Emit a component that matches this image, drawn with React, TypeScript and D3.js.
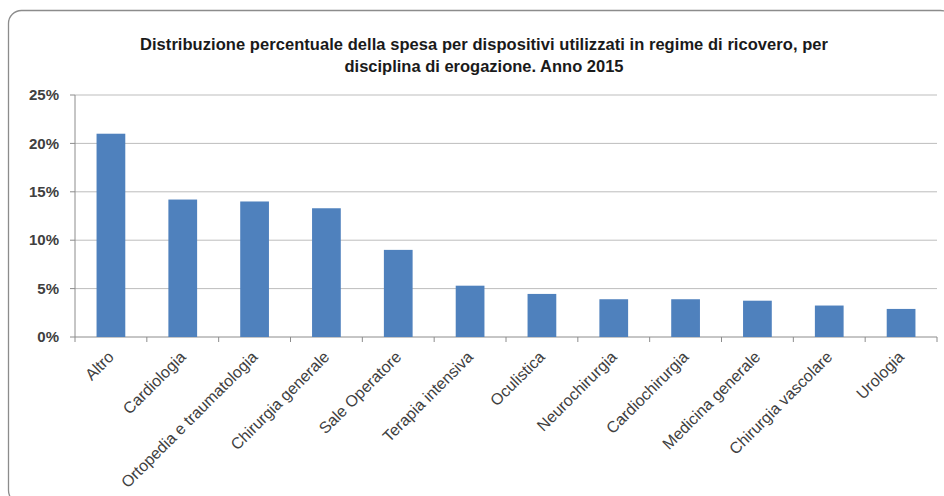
import React from "react";
import * as d3 from "d3";

const categories = [
  "Altro",
  "Cardiologia",
  "Ortopedia e traumatologia",
  "Chirurgia generale",
  "Sale Operatore",
  "Terapia intensiva",
  "Oculistica",
  "Neurochirurgia",
  "Cardiochirurgia",
  "Medicina generale",
  "Chirurgia vascolare",
  "Urologia",
];
const values = [21.0, 14.2, 14.0, 13.3, 9.0, 5.3, 4.45, 3.9, 3.9, 3.75, 3.25, 2.9];
const yTicks = [0, 5, 10, 15, 20, 25];
const titleLines = [
  "Distribuzione percentuale della spesa per dispositivi utilizzati in regime di ricovero, per",
  "disciplina di erogazione. Anno 2015",
];

const W = 944;
const H = 496;
const plotLeft = 75;
const plotRight = 937;
const plotTop = 95;
const plotBottom = 337;

export default function App() {
  const x = d3.scaleBand<string>().domain(categories).range([plotLeft, plotRight]).paddingInner(0.6).paddingOuter(0.3);
  const xb = d3.scaleBand<string>().domain(categories).range([plotLeft, plotRight]);
  const y = d3.scaleLinear().domain([0, 25]).range([plotBottom, plotTop]);
  const font = "'Liberation Sans', Arial, sans-serif";
  const boundaries = d3.range(categories.length + 1).map((i) => plotLeft + i * xb.step());

  return (
    <svg width={W} height={H} style={{ position: "absolute", left: 0, top: 0 }} fontFamily={font}>
      <rect x={0} y={0} width={W} height={H} fill="#ffffff" />
      <rect x={8.5} y={10.5} width={945} height={493} rx={13} ry={13} fill="#ffffff" stroke="#8c8c8c" strokeWidth={1.3} />
      {titleLines.map((t, i) => (
        <text key={i} x={484} y={50 + i * 22} textAnchor="middle" fontWeight="bold" fontSize={16.5} fill="#1a1a1a" textLength={i === 0 ? 688 : undefined}>
          {t}
        </text>
      ))}
      {yTicks.map((t) => (
        <g key={t}>
          {t > 0 && <line x1={plotLeft} x2={plotRight} y1={y(t)} y2={y(t)} stroke="#bdbdbd" strokeWidth={1} />}
          <line x1={plotLeft - 5} x2={plotLeft} y1={y(t)} y2={y(t)} stroke="#8c8c8c" />
          <text x={59} y={y(t)} dy="0.35em" textAnchor="end" fontWeight="bold" fontSize={15} fill="#404040">
            {t}%
          </text>
        </g>
      ))}
      <line x1={plotLeft} x2={plotLeft} y1={plotTop} y2={plotBottom} stroke="#8c8c8c" />
      <line x1={plotLeft} x2={plotRight} y1={plotBottom} y2={plotBottom} stroke="#8c8c8c" />
      {boundaries.map((bx, i) => (
        <line key={i} x1={bx} x2={bx} y1={plotBottom} y2={plotBottom + 5} stroke="#8c8c8c" />
      ))}
      {categories.map((c, i) => (
        <rect key={c} x={x(c)} y={y(values[i])} width={x.bandwidth()} height={plotBottom - y(values[i])} fill="#4f81bd" />
      ))}
      {categories.map((c) => {
        const cx = (xb(c) as number) + xb.bandwidth() / 2 + 4;
        const cy = plotBottom + 21;
        return (
          <text key={c} x={cx} y={cy} transform={`rotate(-45, ${cx}, ${cy})`} textAnchor="end" fontSize={16} fill="#404040">
            {c}
          </text>
        );
      })}
    </svg>
  );
}
